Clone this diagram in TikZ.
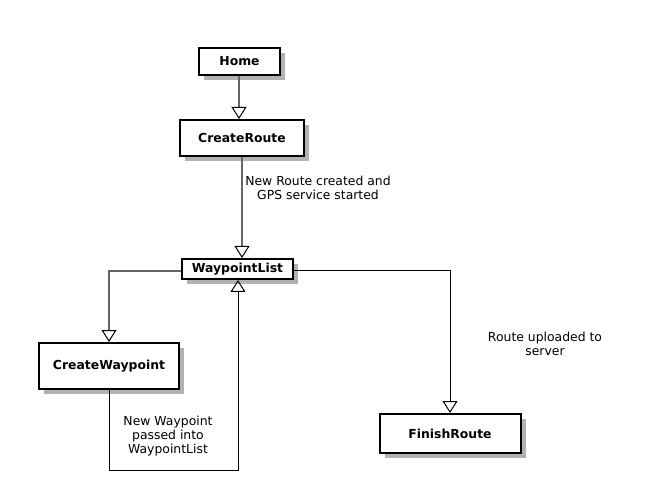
\documentclass[tikz,border=0pt]{standalone}
\usepackage{fontspec}
\setmainfont{DejaVu Sans}
\usetikzlibrary{arrows.meta,shadows}
\tikzset{
  statebox/.style={draw=black, line width=2pt, fill=white, inner sep=0pt,
    font=\bfseries\fontsize{12.4}{14}\selectfont,
    drop shadow={shadow xshift=5pt, shadow yshift=-5pt, fill=black!30, opacity=1}},
  grayline/.style={draw=black!60, line width=1.6pt, -{Triangle[open, length=12pt, width=15pt, line width=1pt]}, arrows={[color=black]}},
  blackline/.style={draw=black, line width=1pt, -{Triangle[open, length=12pt, width=15pt, line width=1pt]}},
  lbl/.style={font=\fontsize{12.4}{13.8}\selectfont, align=center, inner sep=0pt}
}
\begin{document}
\begin{tikzpicture}[x=1pt,y=-1pt]
\useasboundingbox (0,0) rectangle (645,494);
\node[statebox, minimum width=81pt, minimum height=27pt] (home) at (239.5,61.5) {Home};
\node[statebox, minimum width=124pt, minimum height=36pt] (cr) at (242,138) {CreateRoute};
\node[statebox, minimum width=111pt, minimum height=20pt] (wl) at (237.5,269) {WaypointList};
\node[statebox, minimum width=140pt, minimum height=46pt] (cw) at (109,366) {CreateWaypoint};
\node[statebox, minimum width=141pt, minimum height=39pt] (fr) at (450,433.5) {FinishRoute};
\coordinate (loopc) at (238,470);
\draw[grayline] ([xshift=-0.5pt]home.south) -- ([xshift=-0.5pt]home.south |- cr.north);
\draw[grayline] (cr.south) -- (cr.south |- wl.north);
\draw[grayline] ([yshift=-2pt]wl.west) -| (cw.north);
\draw[blackline] (cw.south) |- (loopc) -- (loopc |- wl.south);
\draw[blackline] ([yshift=-2pt]wl.east) -| (fr.north);
\node[lbl] (l1) at (318,188) {New Route created and\\GPS service started};
\node[lbl] (l2) at (168,436) {New Waypoint\\passed into\\WaypointList};
\node[lbl] (l3) at (545,344) {Route uploaded to\\server};
\end{tikzpicture}
\end{document}
